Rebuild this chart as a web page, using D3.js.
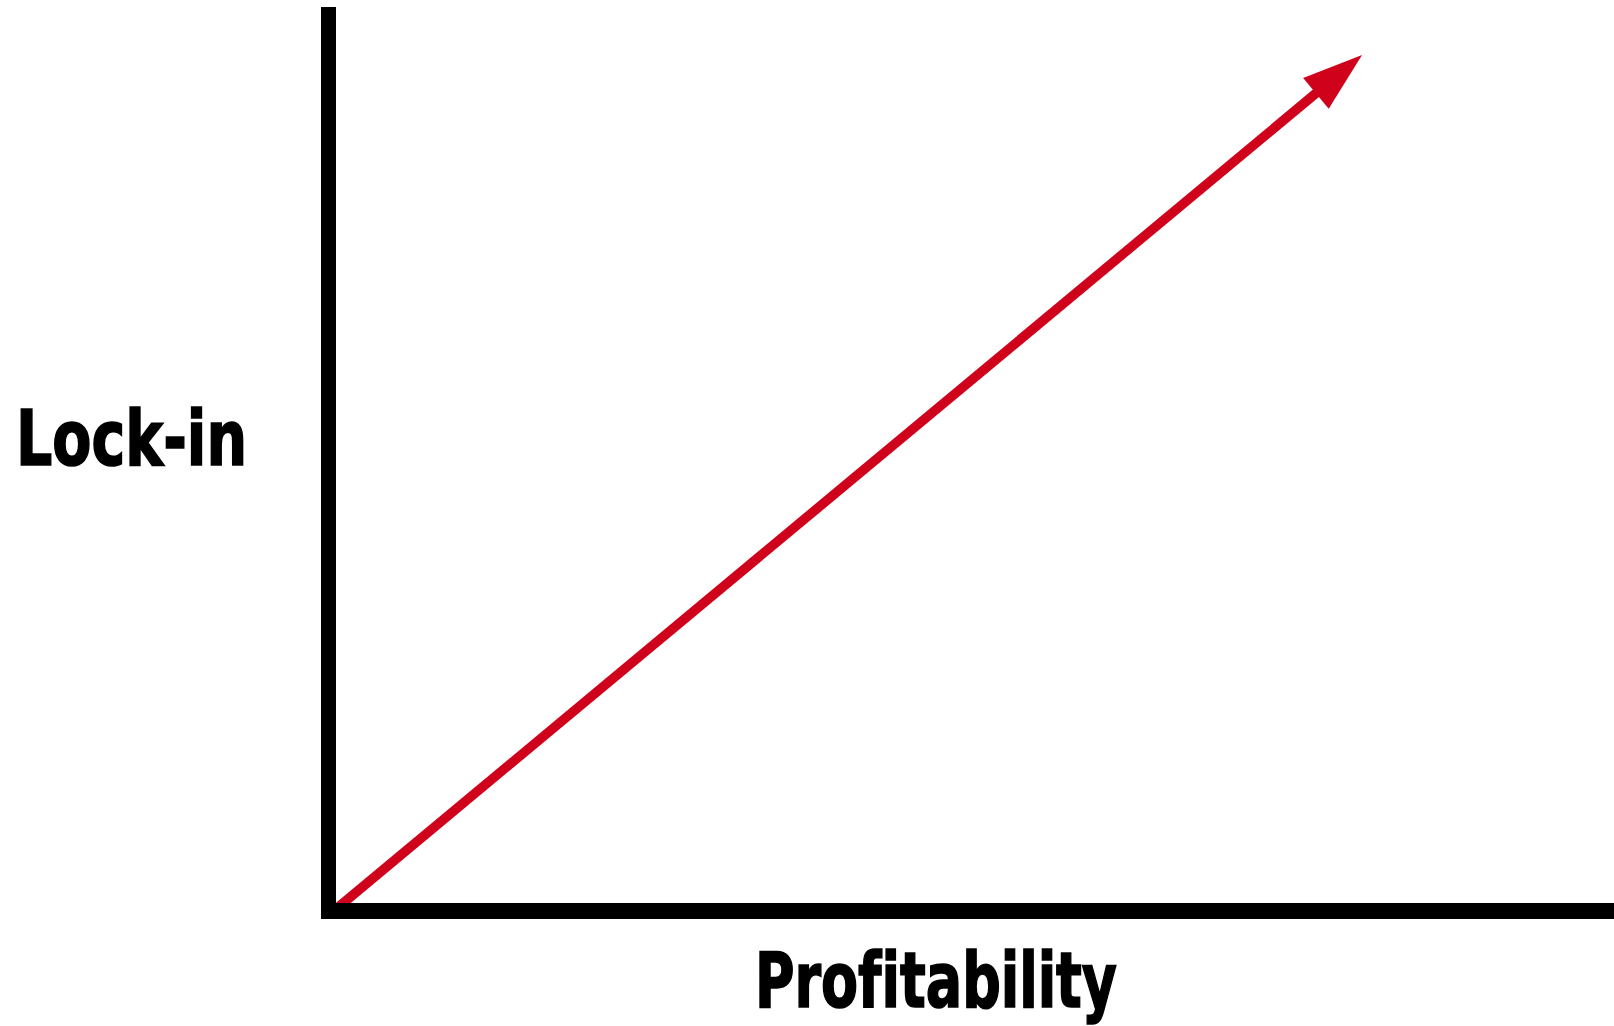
<!DOCTYPE html>
<html>
<head>
<meta charset="utf-8">
<script src="https://cdn.jsdelivr.net/npm/d3@7"></script>
<style>
  html, body { margin: 0; padding: 0; background: #ffffff; }
  svg { display: block; }
  text { font-variant-ligatures: none; font-feature-settings: "liga" 0; }
</style>
</head>
<body>
<svg id="chart" width="1614" height="1026"></svg>
<script>
// ---- data ----
const xAxisLabel = ["Profitability"];
const yAxisLabel = ["Lock-in"];
const xDomain = [0, 1];
const yDomain = [0, 1];
// trend arrow: start and end in data units
const trendX = [0.004, 0.804];
const trendY = [0, 0.947];

// ---- layout ----
const W = 1614, H = 1026;
const originX = 328.5, originY = 911;
const svg = d3.select("#chart");

const x = d3.scaleLinear().domain(xDomain).range([originX, W]);
const y = d3.scaleLinear().domain(yDomain).range([originY, 7]);

const red = "#d0021b";

// trend line with arrowhead
const pts = trendX.map((v, i) => [x(v), y(trendY[i])]);
const [p0, p1] = pts;
const dx = p1[0] - p0[0], dy = p1[1] - p0[1];
const len = Math.hypot(dx, dy);
const ux = dx / len, uy = dy / len;
const headLen = 60, headHalf = 20;
const base = [p1[0] - ux * headLen, p1[1] - uy * headLen];
const nx = -uy, ny = ux;

svg.append("path")
  .attr("d", d3.line()([p0, [base[0] + ux * 2, base[1] + uy * 2]]))
  .attr("stroke", red)
  .attr("stroke-width", 9.5)
  .attr("fill", "none");

svg.append("path")
  .attr("d", d3.line()([p1,
    [base[0] + nx * headHalf, base[1] + ny * headHalf],
    [base[0] - nx * headHalf, base[1] - ny * headHalf]]) + "Z")
  .attr("fill", red);

// axes (drawn on top)
svg.append("line")
  .attr("x1", x(xDomain[0])).attr("x2", x(xDomain[0]))
  .attr("y1", y(yDomain[1])).attr("y2", originY + 8)
  .attr("stroke", "#000").attr("stroke-width", 15);

svg.append("line")
  .attr("x1", x(xDomain[0]) - 7.5).attr("x2", x(xDomain[1]))
  .attr("y1", y(yDomain[0])).attr("y2", y(yDomain[0]))
  .attr("stroke", "#000").attr("stroke-width", 16);

// labels
const font = "'Liberation Sans Narrow', 'Arial Narrow', 'DejaVu Sans Condensed', sans-serif";
svg.append("text")
  .text(yAxisLabel[0])
  .attr("x", 16).attr("y", 465)
  .attr("font-family", font)
  .attr("font-weight", "bold")
  .attr("font-size", 77)
  .attr("textLength", 231)
  .attr("lengthAdjust", "spacingAndGlyphs")
  .attr("fill", "#000")
  .attr("stroke", "#000")
  .attr("stroke-width", 1.6);

svg.append("text")
  .text(xAxisLabel[0])
  .attr("x", 755).attr("y", 1007)
  .attr("font-family", font)
  .attr("font-weight", "bold")
  .attr("font-size", 77)
  .attr("textLength", 362)
  .attr("lengthAdjust", "spacingAndGlyphs")
  .attr("fill", "#000")
  .attr("stroke", "#000")
  .attr("stroke-width", 1.6);
</script>
</body>
</html>
